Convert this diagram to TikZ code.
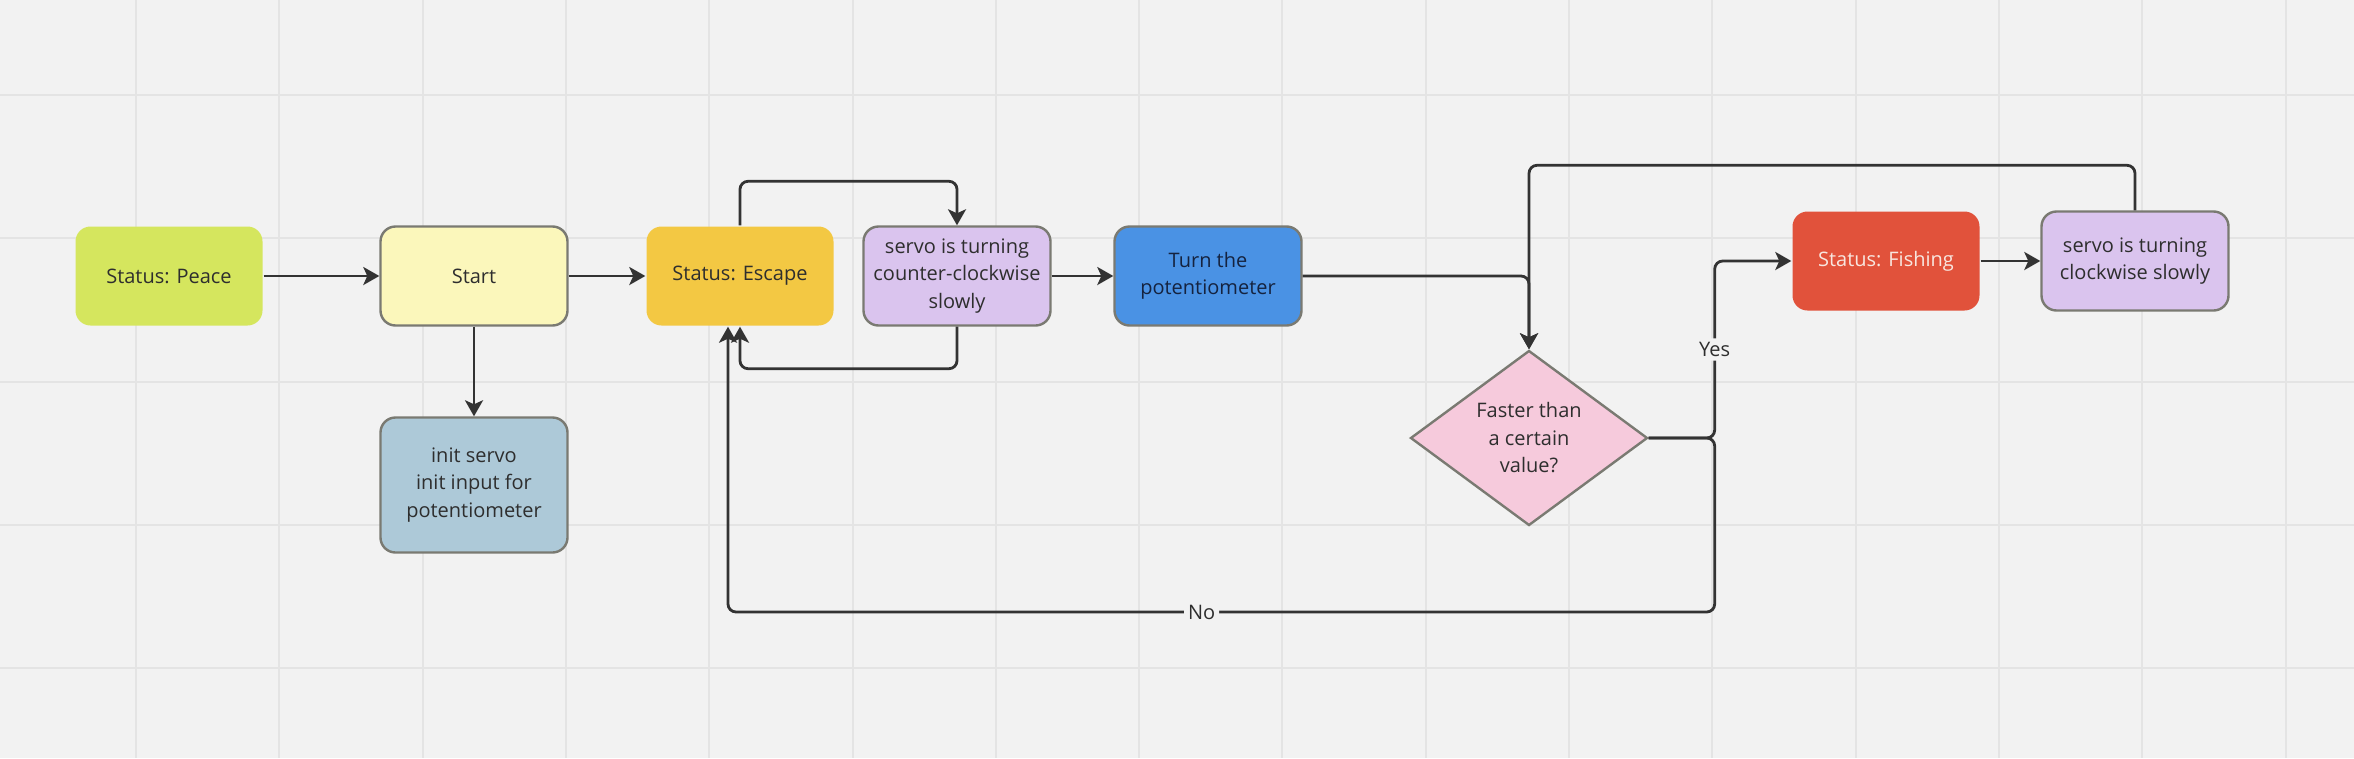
\documentclass[tikz,border=0pt]{standalone}
\usepackage{fontspec}
\setmainfont{Open Sans}
\usetikzlibrary{shapes.geometric,arrows.meta}

\definecolor{boardbg}{HTML}{F2F2F2}
\definecolor{gridgray}{HTML}{E4E4E4}
\definecolor{edgegray}{HTML}{7A7A72}
\definecolor{inkgray}{HTML}{2E2E2E}
\definecolor{navyink}{HTML}{15233F}
\definecolor{peacegreen}{HTML}{D5E65E}
\definecolor{startyellow}{HTML}{FBF7BB}
\definecolor{initblue}{HTML}{ADC9D8}
\definecolor{escapeamber}{HTML}{F3C843}
\definecolor{servolilac}{HTML}{DAC4EE}
\definecolor{turnblue}{HTML}{4A92E4}
\definecolor{checkpink}{HTML}{F6CADC}
\definecolor{fishred}{HTML}{E1523B}
\definecolor{fishtext}{HTML}{F8E6DF}
\definecolor{lineink}{HTML}{333333}

\begin{document}
\begin{tikzpicture}[x=1pt,y=-1pt,
    gridline/.style={draw=gridgray,line width=2pt},
    box/.style={rounded corners=15pt,minimum width=187pt,minimum height=99pt,
        inner sep=3pt,align=center,draw=edgegray,line width=2.4pt,
        font=\fontsize{20}{27.5}\selectfont,text=inkgray},
    plainbox/.style={box,draw=none},
    decision/.style={diamond,aspect=1.35,minimum width=237pt,minimum height=175pt,
        inner sep=1pt,align=center,draw=edgegray,line width=2.4pt,fill=checkpink,
        font=\fontsize{20}{27.5}\selectfont,text=inkgray},
    flow/.style={draw=lineink,line width=2.8pt,rounded corners=8pt,
        -{Stealth[length=16pt,width=18pt,inset=4pt]}},
    lbl/.style={fill=boardbg,inner sep=4pt,font=\fontsize{20}{24}\selectfont,text=inkgray}]
        \pgfmathsetmacro{\gridstep}{143.3}
        \fill[boardbg] (0,0) rectangle (2354,758);
        \useasboundingbox (0,0) rectangle (2354,758);
        \foreach \k in {-1,...,15}
            \draw[gridline] (136+\k*\gridstep,0) -- (136+\k*\gridstep,758);
        \foreach \k in {0,...,4}
            \draw[gridline] (0,95+\k*\gridstep) -- (2354,95+\k*\gridstep);

        \node[plainbox,fill=peacegreen] (peace) at (169,276) {Status: Peace};
        \node[box,fill=startyellow] (start) at (474,276) {Start};
        \node[box,fill=initblue,minimum height=135pt] (init) at (474,485) {init servo\\init input for\\potentiometer};
        \node[plainbox,fill=escapeamber] (escape) at (740,276) {Status: Escape};
        \node[box,fill=servolilac] (ccw) at (957,276) {servo is turning\\counter-clockwise\\slowly};
        \node[box,fill=turnblue,text=navyink] (turn) at (1208,276) {Turn the\\potentiometer};
        \node[decision] (check) at (1529,438) {Faster than\\a certain\\value?};
        \node[plainbox,fill=fishred,text=fishtext] (fishing) at (1886,261) {Status: Fishing};
        \node[box,fill=servolilac] (cw) at (2135,261) {servo is turning\\clockwise slowly};

        \draw[flow] (peace) -- (start);
        \draw[flow] (start) -- (escape);
        \draw[flow] (start) -- (init);
        \draw[flow] (escape.north) -- ++(0,-44) -| (ccw.north);
        \draw[flow] (ccw.south) -- ++(0,42) -| (escape.south);
        \draw[flow] (ccw) -- (turn);
        \draw[flow] (turn) -| (check.north);
        \draw[flow] (check.east) -- ++(66,0) |- node[pos=0.25,lbl] {Yes} (fishing.west);
        \draw[flow] (check.east) -- ++(66,0) -- ++(0,174) -| node[pos=0.26,lbl] {No} ([xshift=-12pt]escape.south);
        \draw[flow] (fishing) -- (cw);
        \draw[flow] (cw.north) -- ++(0,-45) -| (check.north);
    \end{tikzpicture}
\end{document}
